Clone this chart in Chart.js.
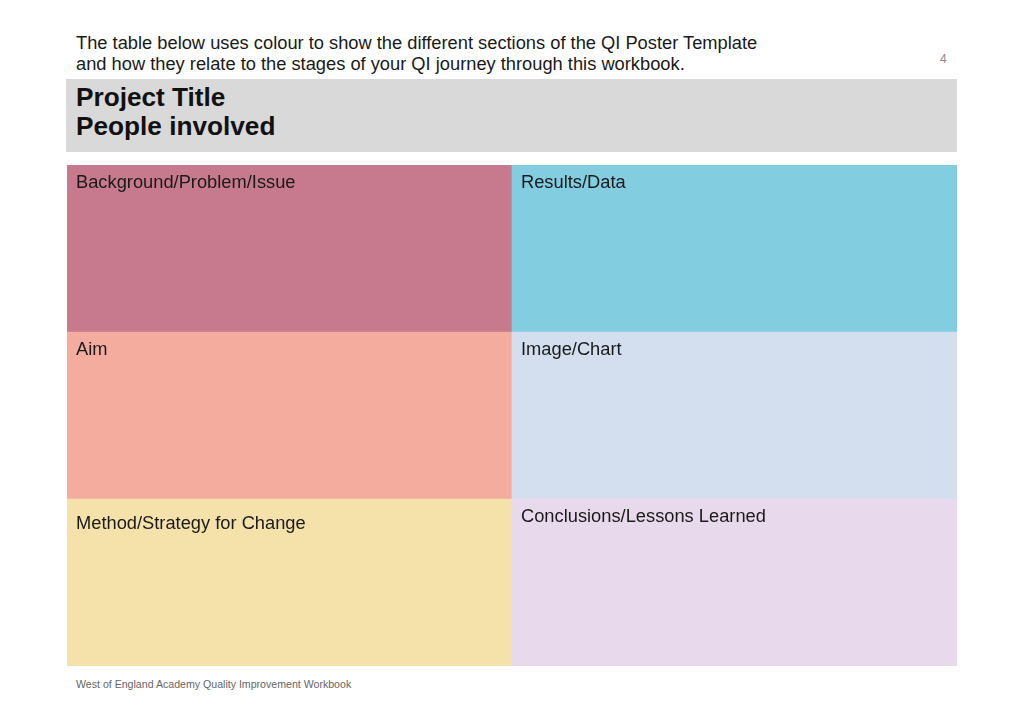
<!DOCTYPE html>
<html>
<head>
<meta charset="utf-8">
<script src="https://cdn.jsdelivr.net/npm/chart.js@4/dist/chart.umd.min.js"></script>
<style>
  html, body { margin: 0; padding: 0; background: #ffffff; }
  body { width: 1024px; height: 709px; position: relative; overflow: hidden; font-family: "Liberation Sans", Arial, sans-serif; }
  #intro { position: absolute; left: 76px; top: 32px; font-size: 18.3px; line-height: 21px; color: #1a1a1a; }
  #page { position: absolute; left: 940px; top: 52px; font-size: 12px; color: #8a8a8a; }
  #header { position: absolute; left: 66px; top: 79px; width: 891px; height: 73px; background: #d9d9d9; }
  #header div { position: absolute; left: 10px; font-weight: bold; font-size: 26.2px; color: #111; }
  #footer { position: absolute; left: 76px; top: 678px; font-size: 10.6px; color: #666; }
  #wrap { position: absolute; left: 67px; top: 165px; width: 890px; height: 501px; }
</style>
</head>
<body>
<div id="intro">The table below uses colour to show the different sections of the QI Poster Template<br>and how they relate to the stages of your QI journey through this workbook.</div>
<div id="page">4</div>
<div id="header"><div style="top:3px">Project Title</div><div style="top:32px">People involved</div></div>
<div id="wrap"><canvas id="c"></canvas></div>
<div id="footer">West of England Academy Quality Improvement Workbook</div>
<script>
// Columns of the poster grid
const columns = ["Left", "Right"];
// Rows from bottom to top (stack order)
const bottomRowLabels = ["Method/Strategy for Change", "Conclusions/Lessons Learned"];
const middleRowLabels = ["Aim", "Image/Chart"];
const topRowLabels = ["Background/Problem/Issue", "Results/Data"];
// Each section occupies one equal unit of height
const bottomRowValues = [1, 1];
const middleRowValues = [1, 1];
const topRowValues = [1, 1];
const bottomRowColors = ["#f5e2aa", "#e8daec"];
const middleRowColors = ["#f4ac9f", "#d3dfee"];
const topRowColors = ["#c77a8d", "#82cee0"];

const labelPlugin = {
  id: "sectionLabels",
  afterDatasetsDraw(chart, args, opts) {
    const ctx = chart.ctx;
    ctx.save();
    ctx.font = "18.3px 'Liberation Sans', Arial, sans-serif";
    ctx.fillStyle = "#1a1a1a";
    ctx.textBaseline = "middle";
    ctx.textAlign = "left";
    chart.data.datasets.forEach((ds, di) => {
      const meta = chart.getDatasetMeta(di);
      meta.data.forEach((bar, i) => {
        const left = bar.x - bar.width / 2;
        const top = Math.min(bar.y, bar.base);
        const off = (ds.labelOffsets && ds.labelOffsets[i]) || 18;
        ctx.fillText(ds.sectionLabels[i], left + 9, top + off);
      });
    });
    ctx.restore();
  }
};

new Chart(document.getElementById("c"), {
  type: "bar",
  data: {
    labels: columns,
    datasets: [
      { data: bottomRowValues, backgroundColor: bottomRowColors, sectionLabels: bottomRowLabels, labelOffsets: [25, 18] },
      { data: middleRowValues, backgroundColor: middleRowColors, sectionLabels: middleRowLabels },
      { data: topRowValues, backgroundColor: topRowColors, sectionLabels: topRowLabels }
    ]
  },
  options: {
    responsive: true,
    maintainAspectRatio: false,
    animation: false,
    layout: { padding: 0 },
    datasets: { bar: { barPercentage: 1, categoryPercentage: 1, borderWidth: 0, borderSkipped: false } },
    plugins: { legend: { display: false }, tooltip: { enabled: false }, title: { display: false } },
    scales: {
      x: { stacked: true, display: false, grid: { display: false } },
      y: { stacked: true, display: false, min: 0, max: 3, grid: { display: false } }
    }
  },
  plugins: [labelPlugin]
});
</script>
</body>
</html>
